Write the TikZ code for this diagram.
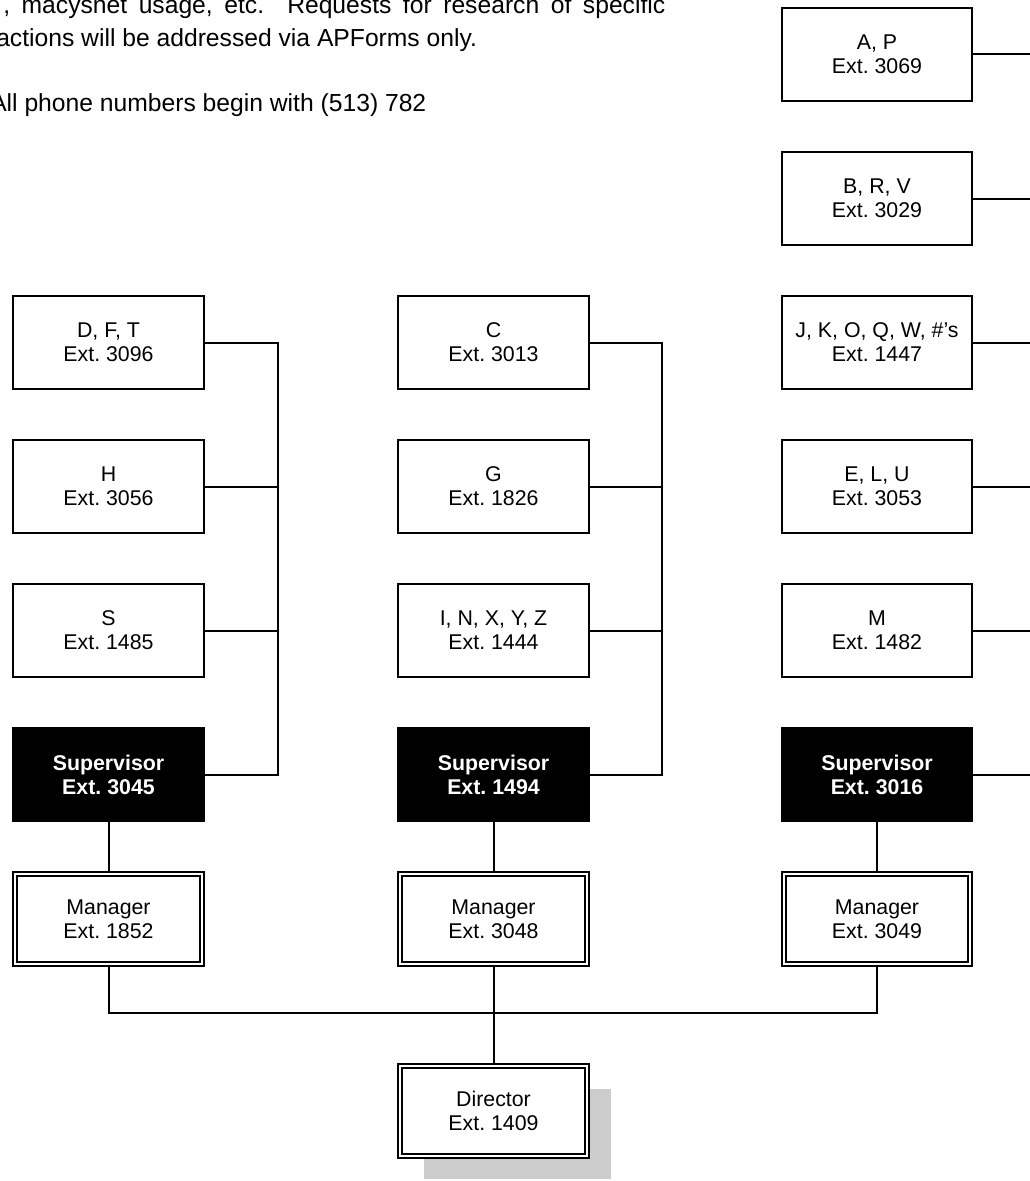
\documentclass[tikz,border=0pt]{standalone}
\usepackage{fontspec}
\setmainfont{Liberation Sans}
\usetikzlibrary{shadows}
\frenchspacing
\hbadness=10000

\newcommand{\boxfont}{\fontsize{16}{18}\selectfont}
\newcommand{\notefont}{\fontsize{18.5}{22}\selectfont}

\tikzset{
  unit/.style={draw, line width=1.5pt, minimum width=143pt, minimum height=69.75pt,
    inner sep=0pt, align=center, font=\boxfont},
  lead/.style={unit, fill=black, text=white, font=\boxfont\bfseries},
  chief/.style={unit, double, line width=1.3pt, double distance=1.7pt,
    minimum width=139.8pt, minimum height=67.8pt, fill=white},
  link/.style={line width=1.5pt},
  note/.style={anchor=base west, inner sep=0pt, font=\notefont},
}

\begin{document}
\begin{tikzpicture}[x=0.75pt, y=-0.75pt]
		\useasboundingbox (0,0) rectangle (1030,1181);
		\clip (0,0) rectangle (1030,1181);
		
		% notes at the top
		\node[note] (intro) at (3,14)   {\makebox[496.5pt][s]{, macysnet usage, etc.\ \ Requests for research of specific}};
		\node[note] (only)  at (-4,47)  {actions will be addressed via APForms only.};
		\node[note] (phone) at (-10,111) {All phone numbers begin with (513) 782};
		
		% west column
		\node[unit] (dft)   at (108.5,342.5) {D, F, T\\Ext. 3096};
		\node[unit] (hh)    at (108.5,486.5) {H\\Ext. 3056};
		\node[unit] (ss)    at (108.5,630.5) {S\\Ext. 1485};
		\node[lead] (supw)  at (108.5,774.5) {Supervisor\\Ext. 3045};
		\node[chief] (mgrw) at (108.5,919)   {Manager\\Ext. 1852};
		
		% middle column
		\node[unit] (cc)    at (493.5,342.5) {C\\Ext. 3013};
		\node[unit] (gg)    at (493.5,486.5) {G\\Ext. 1826};
		\node[unit] (inxyz) at (493.5,630.5) {I, N, X, Y, Z\\Ext. 1444};
		\node[lead] (supm)  at (493.5,774.5) {Supervisor\\Ext. 1494};
		\node[chief] (mgrm) at (493.5,919)   {Manager\\Ext. 3048};
		
		% east column
		\node[unit] (ap)    at (877,54.5)  {A, P\\Ext. 3069};
		\node[unit] (brv)   at (877,198.5) {B, R, V\\Ext. 3029};
		\node[unit] (jkoqw) at (877,342.5) {J, K, O, Q, W, \#'s\\Ext. 1447};
		\node[unit] (elu)   at (877,486.5) {E, L, U\\Ext. 3053};
		\node[unit] (mm)    at (877,630.5) {M\\Ext. 1482};
		\node[lead] (supe)  at (877,774.5) {Supervisor\\Ext. 3016};
		\node[chief] (mgre) at (877,919)   {Manager\\Ext. 3049};
		
		\node[chief, drop shadow={shadow xshift=18pt, shadow yshift=-17.25pt, fill=black!20, opacity=1}]
		  (dir) at (493.5,1111) {Director\\Ext. 1409};
		
		% buses
		\coordinate (busw) at (278,0);
		\coordinate (busm) at (662,0);
		\coordinate (buse) at (1040,0);
		\coordinate (busb) at (0,1013);
		
		\draw[link] (dft.east) -- (dft.east -| busw) |- (supw.east);
		\draw[link] (hh.east) -- (hh.east -| busw);
		\draw[link] (ss.east) -- (ss.east -| busw);
		
		\draw[link] (cc.east) -- (cc.east -| busm) |- (supm.east);
		\draw[link] (gg.east) -- (gg.east -| busm);
		\draw[link] (inxyz.east) -- (inxyz.east -| busm);
		
		\draw[link] (ap.east) -- (ap.east -| buse);
		\draw[link] (brv.east) -- (brv.east -| buse);
		\draw[link] (jkoqw.east) -- (jkoqw.east -| buse);
		\draw[link] (elu.east) -- (elu.east -| buse);
		\draw[link] (mm.east) -- (mm.east -| buse);
		\draw[link] (supe.east) -- (supe.east -| buse);
		
		\draw[link] (supw.south) -- (mgrw.north);
		\draw[link] (supm.south) -- (mgrm.north);
		\draw[link] (supe.south) -- (mgre.north);
		
		\draw[link] (mgrw.south) -- (mgrw.south |- busb) -- (mgre.south |- busb) -- (mgre.south);
		\draw[link] (mgrm.south) -- (dir.north);
\end{tikzpicture}
\end{document}
